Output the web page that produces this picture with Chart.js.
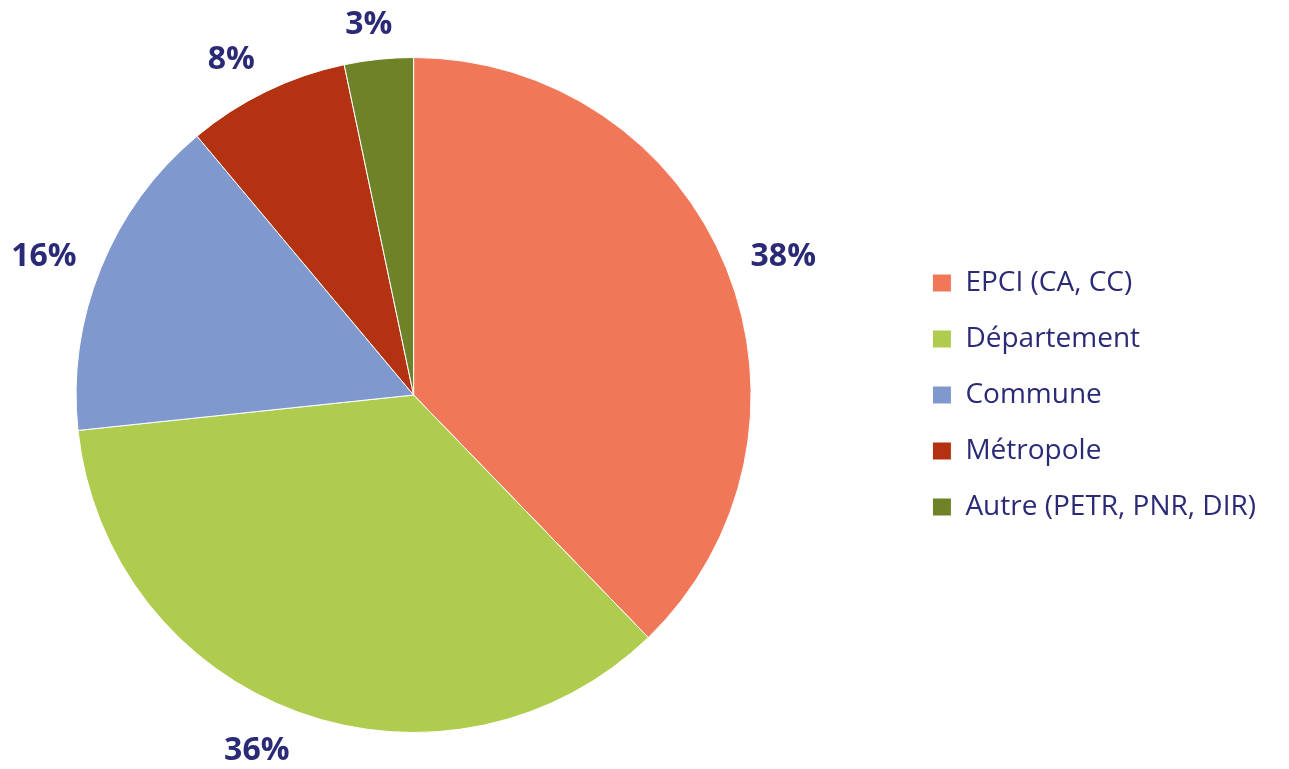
<!DOCTYPE html>
<html>
<head>
<meta charset="utf-8">
<script src="https://cdn.jsdelivr.net/npm/chart.js@4"></script>
<style>
  html, body { margin: 0; padding: 0; background: #fff; }
  #wrap { width: 1289px; height: 769px; }
</style>
</head>
<body>
<div id="wrap"><canvas id="pie"></canvas></div>
<script>
const categories = ["EPCI (CA, CC)", "Département", "Commune", "Métropole", "Autre (PETR, PNR, DIR)"];
const shares = [37.8, 35.6, 15.6, 7.8, 3.3];
const colors = ["#F07858", "#B0CC4E", "#7F99CF", "#B33211", "#6E8227"];
const navy = "#2B2A76";

// percent labels drawn just outside each slice
const outsideLabels = {
  id: "outsideLabels",
  afterDatasetsDraw(chart) {
    const ctx = chart.ctx;
    const meta = chart.getDatasetMeta(0);
    ctx.save();
    ctx.font = "bold 32px 'Open Sans'";
    ctx.fillStyle = navy;
    ctx.textAlign = "center";
    ctx.textBaseline = "middle";
    meta.data.forEach((arc, i) => {
      const { x, y, startAngle, endAngle, outerRadius } = arc.getProps(["x", "y", "startAngle", "endAngle", "outerRadius"], true);
      const a = (startAngle + endAngle) / 2;
      const dx = Math.cos(a), dy = Math.sin(a);
      const text = Math.round(shares[i]) + "%";
      const w = ctx.measureText(text).width;
      const r = outerRadius + 26;
      const cx = x + dx * r + Math.sign(dx) * Math.min(1, Math.abs(dx) * 3) * w / 2;
      const cy = y + dy * r + dy * 12 + 3;
      ctx.fillText(text, cx, cy);
    });
    ctx.restore();
  }
};

new Chart(document.getElementById("pie"), {
  type: "pie",
  data: {
    labels: categories,
    datasets: [{
      data: shares,
      backgroundColor: colors,
      borderColor: "#ffffff",
      borderWidth: 1
    }]
  },
  options: {
    responsive: true,
    maintainAspectRatio: false,
    animation: false,
    layout: { padding: { left: 0, right: 23, top: 57, bottom: 36 } },
    plugins: {
      tooltip: { enabled: false },
      // empty title used as a spacer between the pie and the legend
      title: {
        display: true,
        text: "",
        position: "right",
        weight: 500,
        font: { size: 1 },
        padding: { top: 38, bottom: 38 }
      },
      legend: {
        position: "right",
        maxWidth: 420,
        labels: {
          boxWidth: 19,
          boxHeight: 18,
          padding: 28,
          color: navy,
          font: { family: "'Open Sans'", size: 28 }
        }
      }
    }
  },
  plugins: [outsideLabels]
});
</script>
</body>
</html>
